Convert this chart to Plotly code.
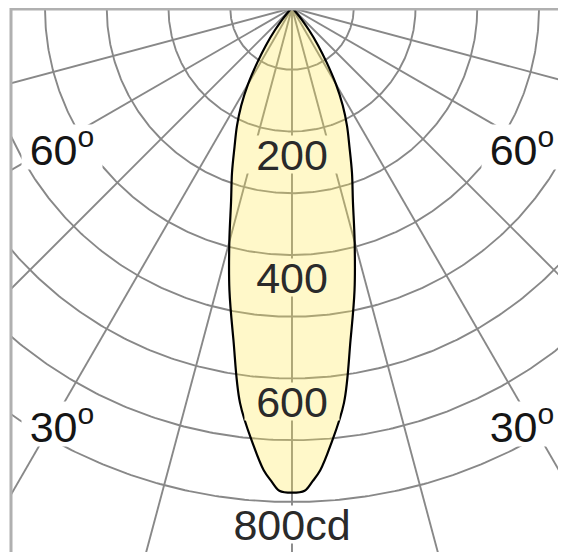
import numpy as np
import plotly.graph_objects as go

# Luminous intensity distribution (symmetric), gamma angle from nadir in degrees
gamma_deg = [0, 1.5, 2.5, 3.5, 5, 7.5, 10, 12.5, 15, 17.5, 20, 22.5, 25, 27.5, 30,
             32.5, 35, 37.5, 40, 42.5, 45, 50]
intensity_cd = [785, 782, 767, 750, 712, 645, 546, 468, 392, 328, 284, 243, 211, 178, 142,
                104, 73, 46, 25, 12, 5, 0]

# Grid definition
circle_cd = [100, 200, 300, 400, 500, 600, 700, 800]
radial_deg = [-90, -75, -60, -45, -30, -15, 0, 15, 30, 45, 60, 75, 90]

# Labels
value_label_cd = [200, 400, 600, 800]
value_label_txt = ["200", "400", "600", "800cd"]
angle_label_deg = [60, 30]
angle_label_txt = ["60<sup>o</sup>", "30<sup>o</sup>"]

FONT = "Liberation Sans, Arial, sans-serif"
GRID = "#888888"
FILL = "rgba(255,232,75,0.30)"
FILL_SOLID = "#FFF8C9"

fig = go.Figure()

# circles
cx, cy = [], []
t = np.radians(np.linspace(-90, 90, 361))
for r in circle_cd:
    cx += list(r * np.sin(t)) + [None]
    cy += list(-r * np.cos(t)) + [None]
fig.add_trace(go.Scatter(x=cx, y=cy, mode="lines",
                         line=dict(color=GRID, width=1.9), hoverinfo="skip"))

# radial lines
rx, ry = [], []
for a in radial_deg:
    ar = np.radians(a)
    rx += [0, 2000 * np.sin(ar), None]
    ry += [0, -2000 * np.cos(ar), None]
fig.add_trace(go.Scatter(x=rx, y=ry, mode="lines",
                         line=dict(color=GRID, width=1.9), hoverinfo="skip"))

# beam (mirror of the half profile)
g = np.radians(np.array(gamma_deg, dtype=float))
I = np.array(intensity_cd, dtype=float)
xs_r = I * np.sin(g)
ys_r = -I * np.cos(g)
bx = list(-xs_r[::-1]) + list(xs_r[1:])
by = list(ys_r[::-1]) + list(ys_r[1:])
fig.add_trace(go.Scatter(x=bx, y=by, mode="lines", fill="toself",
                         fillcolor=FILL,
                         line=dict(color="black", width=2.2, shape="spline", smoothing=1.0),
                         hoverinfo="skip"))

annotations = []
for v, txt in zip(value_label_cd, value_label_txt):
    inside = v < 790
    annotations.append(dict(
        x=0, y=-(v + 37), xref="x", yref="y", text=txt, showarrow=False,
        font=dict(family=FONT, size=43, color="#2a2a2a"),
        bgcolor=FILL_SOLID if inside else "white",
        width=94 if inside else 128, height=37, borderpad=0,
        xanchor="center", yanchor="middle"))

angle_label_pos = {60: (373, -225), 30: (372, -674)}
for a, txt in zip(angle_label_deg, angle_label_txt):
    px, py = angle_label_pos[a]
    for sgn in (-1, 1):
        annotations.append(dict(
            x=sgn * px, y=py, xref="x", yref="y", text=txt, showarrow=False,
            font=dict(family=FONT, size=43, color="#151515"),
            bgcolor="white", width=80, height=44, borderpad=0,
            xanchor="center", yanchor="middle"))

# The page body adds an 8px offset; the figure fills the rest of the window.
FIG_W, FIG_H = 558, 544
fig.update_layout(
    width=FIG_W, height=FIG_H,
    margin=dict(l=3, r=0, t=0, b=0),
    paper_bgcolor="white", plot_bgcolor="white",
    showlegend=False,
    xaxis=dict(range=[-455, 443.7], showgrid=False, zeroline=False,
               showticklabels=False, ticks="", showline=False, fixedrange=True),
    yaxis=dict(range=[-881, 0], showgrid=False, zeroline=False,
               showticklabels=False, ticks="", showline=False, fixedrange=True),
    annotations=annotations,
    shapes=[
        dict(type="line", xref="paper", yref="paper", x0=0, x1=0, y0=0, y1=1,
             line=dict(color="#b0b0b0", width=3)),
        dict(type="line", xref="paper", yref="paper", x0=0, x1=1,
             y0=1 - 1.25 / FIG_H, y1=1 - 1.25 / FIG_H,
             line=dict(color="#b0b0b0", width=2.5)),
    ],
)

fig.write_html("out.html")
